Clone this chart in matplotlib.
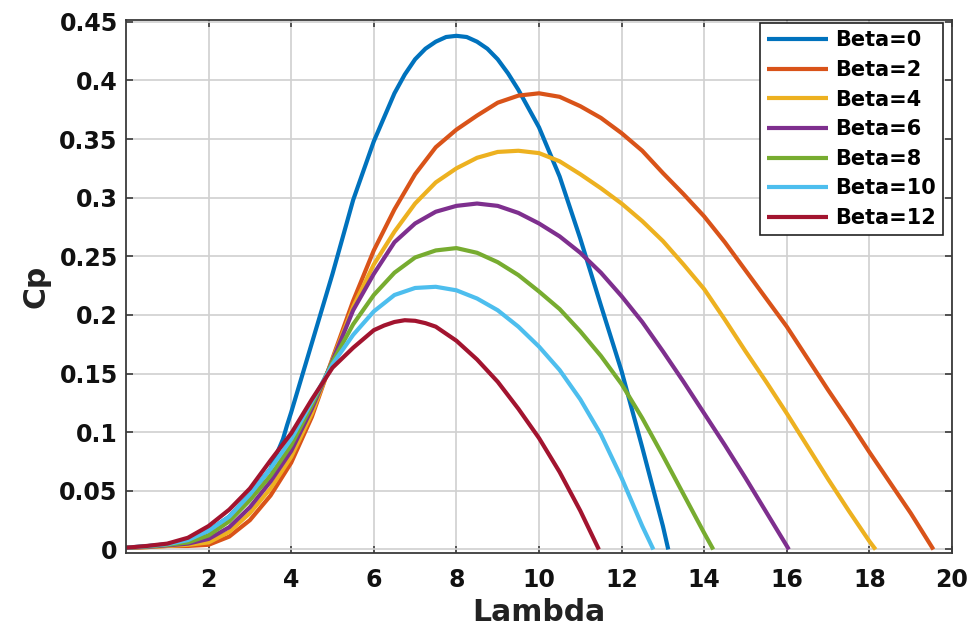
import matplotlib
matplotlib.use("Agg")
import matplotlib.pyplot as plt

# ---- data ----
lam_b0 = [0, 0.5, 1, 1.5, 2, 2.5, 3, 3.5, 3.8, 3.9, 4, 4.5, 5, 5.5, 6, 6.5, 6.75, 7, 7.25, 7.5,
          7.75, 8, 8.25, 8.5, 8.75, 9, 9.25, 9.5, 10, 10.5, 11, 11.5, 12, 12.5, 13, 13.13]
cp_b0 = [0.0015, 0.0028, 0.0045, 0.008, 0.016, 0.028, 0.047, 0.069, 0.094, 0.106, 0.117, 0.176,
         0.235, 0.298, 0.348, 0.389, 0.405, 0.418, 0.427, 0.433, 0.437, 0.438, 0.437, 0.433,
         0.427, 0.418, 0.406, 0.392, 0.360, 0.318, 0.265, 0.208, 0.152, 0.087, 0.020, 0.0]

lam_b2 = [0, 0.5, 1, 1.5, 2, 2.5, 3, 3.5, 4, 4.5, 5, 5.5, 6, 6.5, 7, 7.5, 8, 8.5, 9, 9.5, 10,
          10.5, 11, 11.5, 12, 12.5, 13, 13.5, 14, 14.5, 15, 15.5, 16, 16.5, 17, 17.5, 18, 18.5,
          19, 19.55]
cp_b2 = [0.0015, 0.002, 0.003, 0.003, 0.004, 0.011, 0.025, 0.046, 0.074, 0.113, 0.163, 0.212,
         0.255, 0.290, 0.320, 0.343, 0.358, 0.370, 0.381, 0.387, 0.389, 0.386, 0.378, 0.368,
         0.355, 0.340, 0.321, 0.303, 0.284, 0.262, 0.238, 0.214, 0.190, 0.163, 0.136, 0.110,
         0.083, 0.057, 0.031, 0.0]

lam_b4 = [0, 0.5, 1, 1.5, 2, 2.5, 3, 3.5, 4, 4.5, 5, 5.5, 6, 6.5, 7, 7.5, 8, 8.5, 9, 9.5, 10,
          10.5, 11, 11.5, 12, 12.5, 13, 13.5, 14, 14.5, 15, 15.5, 16, 16.5, 17, 17.5, 18, 18.15]
cp_b4 = [0.0015, 0.002, 0.003, 0.004, 0.006, 0.015, 0.031, 0.052, 0.079, 0.116, 0.162, 0.207,
         0.243, 0.271, 0.295, 0.313, 0.325, 0.334, 0.339, 0.340, 0.338, 0.331, 0.320, 0.308,
         0.295, 0.280, 0.263, 0.243, 0.222, 0.196, 0.169, 0.143, 0.116, 0.088, 0.060, 0.033,
         0.007, 0.0]

lam_b6 = [0, 0.5, 1, 1.5, 2, 2.5, 3, 3.5, 4, 4.5, 5, 5.5, 6, 6.5, 7, 7.5, 8, 8.5, 9, 9.5, 10,
          10.5, 11, 11.5, 12, 12.5, 13, 13.5, 14, 14.5, 15, 15.5, 16, 16.05]
cp_b6 = [0.0015, 0.0022, 0.0035, 0.005, 0.009, 0.019, 0.036, 0.058, 0.084, 0.120, 0.161, 0.204,
         0.235, 0.262, 0.278, 0.288, 0.293, 0.295, 0.293, 0.287, 0.278, 0.267, 0.253, 0.236,
         0.216, 0.194, 0.169, 0.143, 0.116, 0.089, 0.061, 0.032, 0.003, 0.0]

lam_b8 = [0, 0.5, 1, 1.5, 2, 2.5, 3, 3.5, 4, 4.5, 5, 5.5, 6, 6.5, 7, 7.5, 8, 8.5, 9, 9.5, 10,
          10.5, 11, 11.5, 12, 12.5, 13, 13.5, 14, 14.22]
cp_b8 = [0.0015, 0.0025, 0.004, 0.006, 0.012, 0.024, 0.042, 0.063, 0.089, 0.123, 0.160, 0.192,
         0.217, 0.236, 0.249, 0.255, 0.257, 0.253, 0.245, 0.234, 0.220, 0.205, 0.186, 0.165,
         0.141, 0.112, 0.080, 0.047, 0.014, 0.0]

lam_b10 = [0, 0.5, 1, 1.5, 2, 2.5, 3, 3.5, 4, 4.5, 5, 5.5, 6, 6.5, 7, 7.5, 8, 8.5, 9, 9.5, 10,
           10.5, 11, 11.5, 12, 12.5, 12.77]
cp_b10 = [0.0015, 0.0028, 0.0045, 0.008, 0.016, 0.028, 0.047, 0.069, 0.094, 0.126, 0.158, 0.183,
          0.203, 0.217, 0.223, 0.224, 0.221, 0.214, 0.204, 0.190, 0.173, 0.153, 0.128, 0.098,
          0.061, 0.020, 0.0]

lam_b12 = [0, 0.5, 1, 1.5, 2, 2.5, 3, 3.5, 4, 4.5, 5, 5.5, 6, 6.25, 6.5, 6.75, 7, 7.25, 7.5, 8,
           8.5, 9, 9.5, 10, 10.5, 11, 11.45]
cp_b12 = [0.0015, 0.003, 0.005, 0.010, 0.020, 0.034, 0.052, 0.076, 0.099, 0.128, 0.155, 0.172,
          0.187, 0.191, 0.194, 0.1955, 0.195, 0.193, 0.190, 0.178, 0.162, 0.143, 0.120, 0.095,
          0.066, 0.033, 0.0]

series_labels = ["Beta=0", "Beta=2", "Beta=4", "Beta=6", "Beta=8", "Beta=10", "Beta=12"]
x_ticks = [2, 4, 6, 8, 10, 12, 14, 16, 18, 20]
y_ticks = [0, 0.05, 0.1, 0.15, 0.2, 0.25, 0.3, 0.35, 0.4, 0.45]
y_tick_labels = ["0", "0.05", "0.1", "0.15", "0.2", "0.25", "0.3", "0.35", "0.4", "0.45"]
x_label = "Lambda"
y_label = "Cp"

colors = ["#0072BD", "#D95319", "#EDB120", "#7E2F8E", "#77AC30", "#4DBEEE", "#A2142F"]

plt.rcParams['font.family'] = ['DejaVu Sans']
plt.rcParams['font.weight'] = 'bold'

fig = plt.figure(figsize=(9.67, 6.28), dpi=100)
ax = fig.add_axes([126 / 967, 1 - 553 / 628, (952 - 126) / 967, (553 - 20) / 628])

lams = [lam_b0, lam_b2, lam_b4, lam_b6, lam_b8, lam_b10, lam_b12]
cps = [cp_b0, cp_b2, cp_b4, cp_b6, cp_b8, cp_b10, cp_b12]
for lx, cy, col, lab in zip(lams, cps, colors, series_labels):
    ax.plot(lx, cy, color=col, lw=3.0, label=lab, solid_joinstyle='round',
            solid_capstyle='butt')

ax.set_xlim(0, 20)
ax.set_ylim(-0.003, 0.4515)
ax.set_xticks(x_ticks)
ax.set_yticks(y_ticks)
ax.set_yticklabels(y_tick_labels)

ax.grid(True, color='#d0d0d0', lw=1.2)
ax.set_axisbelow(True)
for s in ax.spines.values():
    s.set_color('#3a3a3a')
    s.set_linewidth(1.3)

ax.tick_params(direction='in', top=True, right=True, length=5, width=1.2,
               color='#3a3a3a', labelsize=17, labelcolor='#111111')
ax.tick_params(axis='x', pad=11)
ax.tick_params(axis='y', pad=6)
for t in ax.get_xticklabels() + ax.get_yticklabels():
    t.set_fontweight('bold')

ax.set_xlabel(x_label, fontsize=21.5, fontweight='bold', labelpad=4, color='#222222')
ax.set_ylabel(y_label, fontsize=21.5, fontweight='bold', labelpad=6, color='#222222')

leg = ax.legend(loc='upper right', bbox_to_anchor=(0.989, 0.994), borderaxespad=0,
                fontsize=15, handlelength=2.9, handletextpad=0.35, labelspacing=0.46,
                borderpad=0.35, frameon=True, fancybox=False, framealpha=1)
leg.get_frame().set_edgecolor('#222222')
leg.get_frame().set_linewidth(1.2)
for t in leg.get_texts():
    t.set_fontweight('bold')

fig.savefig("out.png", dpi=100)
